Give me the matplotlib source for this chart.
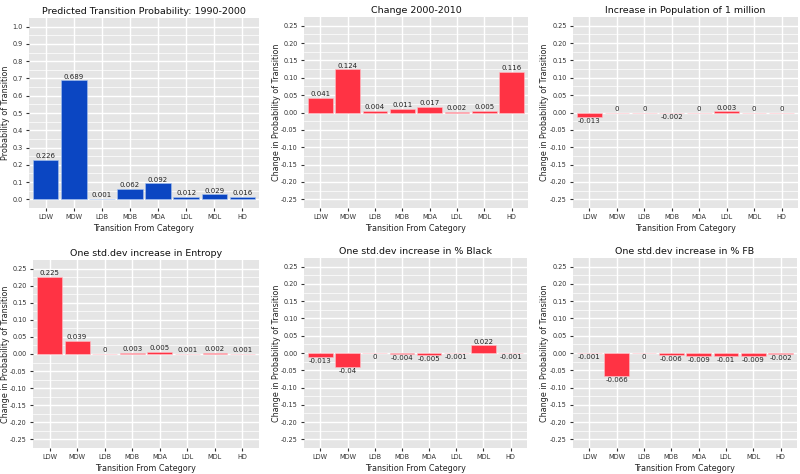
import numpy as np
import matplotlib
matplotlib.use("Agg")
import matplotlib.pyplot as plt

categories = ["LDW", "MDW", "LDB", "MDB", "MDA", "LDL", "MDL", "HD"]

titles = [
    "Predicted Transition Probability: 1990-2000",
    "Change 2000-2010",
    "Increase in Population of 1 million",
    "One std.dev increase in Entropy",
    "One std.dev increase in % Black",
    "One std.dev increase in % FB",
]

prob_1990_2000 = [0.226, 0.689, 0.001, 0.062, 0.092, 0.012, 0.029, 0.016]
change_2000_2010 = [0.041, 0.124, 0.004, 0.011, 0.017, 0.002, 0.005, 0.116]
pop_1m = [-0.013, 0.0, 0.0, -0.002, 0.0, 0.003, 0.0, 0.0]
entropy = [0.225, 0.039, 0.0, 0.003, 0.005, 0.001, 0.002, 0.001]
pct_black = [-0.013, -0.04, -0.0, -0.004, -0.005, -0.001, 0.022, -0.001]
pct_fb = [-0.001, -0.066, -0.0, -0.006, -0.009, -0.01, -0.009, -0.002]

series = [prob_1990_2000, change_2000_2010, pop_1m, entropy, pct_black, pct_fb]
ylabels = ["Probability of Transition"] + ["Change in Probability of Transition"] * 5
xlabel = "Transition From Category"

prob_ticks = [0.0, 0.1, 0.2, 0.3, 0.4, 0.5, 0.6, 0.7, 0.8, 0.9, 1.0]
change_ticks = [-0.25, -0.20, -0.15, -0.10, -0.05, 0.00, 0.05, 0.10, 0.15, 0.20, 0.25]

BLUE = "#0b46c2"
RED = "#ff3344"
BG = "#e5e5e5"

W, H = 800, 474
fig = plt.figure(figsize=(W / 100, H / 100), dpi=100)

# pixel boxes (x0, y0, x1, y1) of each panel, and x pixel of y-label right edge
boxes = [
    (29, 18, 259, 208, 10),
    (304, 17, 528, 208, 281),
    (573, 17, 798, 208, 549),
    (33, 260, 259, 448, 10),
    (304, 258, 527, 448, 281),
    (573, 258, 797, 448, 549),
]

for i, (vals, title, ylab, box) in enumerate(zip(series, titles, ylabels, boxes)):
    x0, y0, x1, y1, ylx = box
    ax = fig.add_axes([x0 / W, 1 - y1 / H, (x1 - x0) / W, (y1 - y0) / H])
    ax.set_facecolor(BG)
    for s in ax.spines.values():
        s.set_visible(False)
    x = np.arange(1, len(categories) + 1)
    vals = np.array(vals, dtype=float)
    if i == 0:
        ticks = prob_ticks
        lo, hi = 0.0, 1.0
        color = BLUE
        edge = "#a8c4f0"
    else:
        ticks = change_ticks
        lo, hi = -0.25, 0.25
        color = RED
        edge = "#ffc0c8"
    pad = (hi - lo) * 0.05
    ax.set_ylim(lo - pad, hi + pad)
    ax.set_xlim(0.4, len(categories) + 0.6)
    ax.set_yticks(ticks)
    ax.set_yticklabels([f"{t:.1f}" if i == 0 else f"{t:.2f}" for t in ticks])
    step = ticks[1] - ticks[0]
    minors = [t + step / 2 for t in ticks[:-1]]
    ax.set_yticks(minors, minor=True)
    ax.set_xticks(x)
    ax.set_xticklabels(categories)
    ax.grid(True, which="major", color="white", linewidth=1.0)
    ax.grid(True, which="minor", axis="y", color="white", linewidth=0.5)
    ax.set_axisbelow(True)
    ax.tick_params(which="major", length=2.5, width=0.8, color="#333333",
                   labelsize=4.7, labelcolor="#333333", pad=2)
    ax.tick_params(which="minor", length=0)
    ax.bar(x, vals, width=0.9, color=color, edgecolor=edge, linewidth=0.4, zorder=2)
    for xi, v in zip(x, vals):
        lab = f"{abs(v):g}" if v == 0 else f"{v:g}"
        neg = np.signbit(v)
        ax.annotate(lab, (xi, v), xytext=(0, -0.6 if neg else 0.6),
                    textcoords="offset points", ha="center",
                    va="top" if neg else "bottom", fontsize=5.0, color="#222222",
                    zorder=3)
    ax.set_title(title, fontsize=6.8, color="#111111", pad=3)
    ax.set_xlabel(xlabel, fontsize=5.8, color="#222222", labelpad=3)
    ax.set_ylabel(ylab, fontsize=5.8, color="#222222")
    ax.yaxis.set_label_coords((ylx - x0) / (x1 - x0), 0.5)

fig.savefig("out.png", dpi=100, facecolor="white")
